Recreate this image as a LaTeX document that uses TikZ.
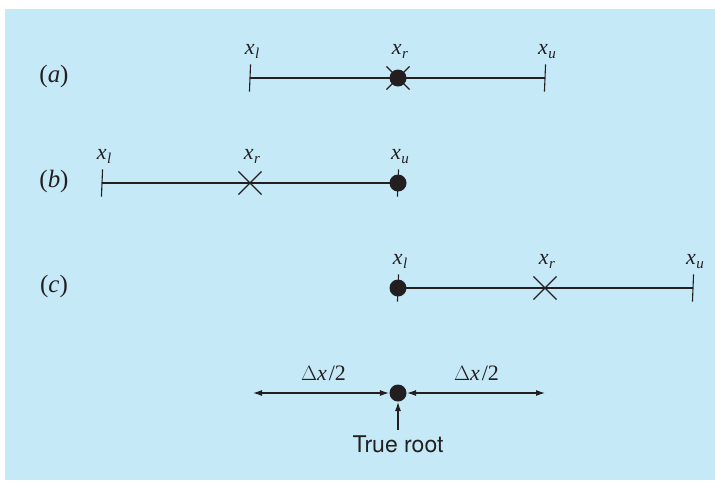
\documentclass[tikz,border=0pt]{standalone}
\usepackage{fontspec}
\setsansfont{TeX Gyre Heros}
\newfontfamily\labserif{Liberation Serif}
\usepackage{tikz}
\usetikzlibrary{arrows.meta, positioning, shapes.misc}
\definecolor{panelblue}{RGB}{198,233,248}
\definecolor{inkgray}{RGB}{35,31,32}
\newcommand{\xsub}[1]{\textit{x}\kern0.5pt\raisebox{-4pt}{\fontsize{15}{16}\selectfont\textit{#1}}}
\newcommand{\halfdx}{$\Delta$\textit{x}\kern2pt/2}

\begin{document}
\begin{tikzpicture}[
    x=1pt, y=-1pt,
    line width=1.1pt,
    tickmark/.style={strike out, draw=inkgray, inner sep=0pt, minimum width=0pt, minimum height=26pt},
    rootdot/.style={circle, fill=inkgray, inner sep=0pt, minimum size=17pt},
    crossmark/.style={cross out, draw=inkgray, inner sep=0pt, minimum size=22pt},
    xlab/.style={anchor=base, inner sep=0pt, text=inkgray, font=\labserif\fontsize{22}{24}\selectfont},
    rowlab/.style={anchor=base, inner sep=0pt, text=inkgray, font=\labserif\fontsize{25}{28}\selectfont},
    rowline/.style={draw=inkgray},
    halfarrow/.style={draw=inkgray, {Latex[length=9pt,width=6pt]}-{Latex[length=9pt,width=6pt]}}
]
    \useasboundingbox (0,0) rectangle (715,480);
    \fill[panelblue] (5,9) rectangle (715,480);

    % (a)
    \node[rowlab] (a-name) at (54,82) {(\textit{a})};
    \node[tickmark] (a-l) at (250,78) {};
    \node[crossmark] (a-x) at (398,78) {};
    \node[rootdot] (a-r) at (398,78) {};
    \node[tickmark] (a-u) at (545,78) {};
    \draw[rowline] (a-l.center) -- (a-u.center);
    \node[xlab] (a-lt) at (252,54) {\xsub{l}};
    \node[xlab] (a-rt) at (400,54) {\xsub{r}};
    \node[xlab] (a-ut) at (547,54) {\xsub{u}};

    % (b)
    \node[rowlab] (b-name) at (54,187) {(\textit{b})};
    \node[tickmark] (b-l) at (102,183) {};
    \node[crossmark] (b-r) at (250,183) {};
    \node[tickmark] (b-ut) at (398,183) {};
    \node[rootdot] (b-u) at (398,183) {};
    \draw[rowline] (b-l.center) -- (b-u.center);
    \node[xlab] (b-lt) at (104,159) {\xsub{l}};
    \node[xlab] (b-rt) at (252,159) {\xsub{r}};
    \node[xlab] (b-utl) at (400,159) {\xsub{u}};

    % (c)
    \node[rowlab] (c-name) at (54,292) {(\textit{c})};
    \node[tickmark] (c-lt) at (398,288) {};
    \node[rootdot] (c-l) at (398,288) {};
    \node[crossmark] (c-r) at (545,288) {};
    \node[tickmark] (c-u) at (693,288) {};
    \draw[rowline] (c-l.center) -- (c-u.center);
    \node[xlab] (c-ltl) at (400,264) {\xsub{l}};
    \node[xlab] (c-rt) at (547,264) {\xsub{r}};
    \node[xlab] (c-ut) at (695,264) {\xsub{u}};

    % true root
    \node[rootdot] (root) at (398,393) {};
    \coordinate (leftend) at (253,393);
    \coordinate (rightend) at (545,393);
    \coordinate (rootfoot) at (398,430);
    \draw[halfarrow] (leftend) -- (root.west);
    \draw[halfarrow] (root.east) -- (rightend);
    \draw[draw=inkgray, -{Latex[length=9pt,width=6pt]}] (rootfoot) -- (root.south);
    \node[xlab] (dl) at (323.5,380) {\halfdx};
    \node[xlab] (dr) at (476.5,380) {\halfdx};
    \node[anchor=base, inner sep=0pt, font=\sffamily\fontsize{23}{26}\selectfont, text=inkgray] (rootlab) at (398,452) {True root};
\end{tikzpicture}
\end{document}
